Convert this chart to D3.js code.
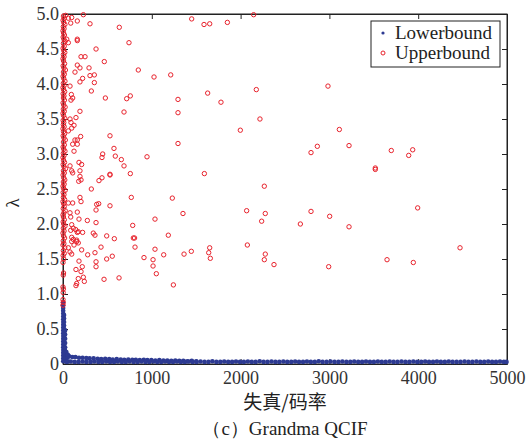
<!DOCTYPE html>
<html>
<head>
<meta charset="utf-8">
<script src="https://cdn.jsdelivr.net/npm/d3@7"></script>
<style>
  body { margin: 0; background: #fff; }
  svg text { font-family: "Liberation Serif", "DejaVu Serif", serif; fill: #222; }
</style>
</head>
<body>
<div id="chart"></div>
<script>
// axis ticks
var xTicks = [0, 1000, 2000, 3000, 4000, 5000];
var yTicks = [0, 0.5, 1, 1.5, 2, 2.5, 3, 3.5, 4, 4.5, 5];
var seriesNames = ["Lowerbound", "Upperbound"];

// Lowerbound: spike near the origin, then the flat band
var lowerSpike = [
  [3,0.04],[3,0.08],[3,0.12],[3,0.16],[3,0.20],[3,0.24],[3,0.28],[3,0.32],[3,0.36],[3,0.40],[3,0.44],
  [3,0.48],[3,0.52],[3,0.56],[3,0.60],[3,0.64],[3,0.68],[3,0.72],[2,0.76],[2,0.80],[1,0.84],[1,0.88],
  [12,0.05],[12,0.10],[12,0.15],[12,0.20],[12,0.25],[12,0.30],[12,0.35],[12,0.40],[12,0.45],[12,0.50],
  [12,0.55],[12,0.60],[12,0.65],[12,0.70],
  [24,0.04],[24,0.09],[24,0.14],[24,0.19],[24,0.24],[24,0.30],[24,0.36],[24,0.42],[24,0.48],
  [38,0.04],[38,0.09],[38,0.14],[38,0.17],[55,0.04],[55,0.10],[55,0.13]
];
var lowerTop = [
  [70,0.11],[105,0.10],[140,0.10],[180,0.09],[220,0.09],[262,0.085],[300,0.08],[345,0.08],[390,0.075],
  [430,0.07],[475,0.075],[520,0.07],[560,0.065],[605,0.07],[650,0.065],[690,0.06],[735,0.065],[780,0.06],
  [820,0.06],[865,0.055],[910,0.06],[950,0.055],[995,0.055],[1040,0.05],[1085,0.055],[1130,0.05],
  [1175,0.05],[1220,0.045],[1265,0.05],[1310,0.045],[1355,0.045],[1400,0.04],[1450,0.045],[1500,0.04]
];
var lowerBand = [
  [45,0.03],[88,0.035],[132,0.03],[176,0.03],[221,0.035],[264,0.03],[310,0.03],[352,0.035],[398,0.03],
  [441,0.03],[486,0.035],[530,0.03],[575,0.03],[618,0.035],[663,0.03],[707,0.03],[751,0.035],[796,0.03],
  [840,0.03],[884,0.035],[929,0.03],[972,0.03],[1017,0.035],[1061,0.03],[1106,0.03],[1150,0.035],
  [1194,0.03],[1239,0.03],[1283,0.035],[1327,0.03],[1372,0.03],[1416,0.035],[1460,0.03],[1505,0.03],
  [1549,0.035],[1594,0.03],[1638,0.03],[1682,0.04],[1727,0.03],[1771,0.03],[1815,0.035],[1860,0.03],
  [1904,0.03],[1948,0.035],[1993,0.03],[2037,0.03],[2082,0.035],[2126,0.03],[2170,0.03],[2215,0.04],
  [2259,0.03],[2303,0.03],[2348,0.035],[2392,0.03],[2436,0.03],[2481,0.035],[2525,0.03],[2570,0.03],
  [2614,0.035],[2658,0.03],[2703,0.03],[2747,0.035],[2791,0.03],[2836,0.03],[2880,0.04],[2924,0.03],
  [2969,0.03],[3013,0.035],[3058,0.03],[3102,0.03],[3146,0.035],[3191,0.03],[3235,0.03],[3279,0.035],
  [3324,0.03],[3368,0.03],[3412,0.035],[3457,0.03],[3501,0.03],[3546,0.035],[3590,0.03],[3634,0.03],
  [3679,0.035],[3723,0.03],[3767,0.03],[3812,0.035],[3856,0.03],[3900,0.03],[3945,0.035],[3989,0.03],
  [4034,0.03],[4078,0.035],[4122,0.03],[4167,0.03],[4211,0.035],[4255,0.03],[4300,0.03],[4344,0.035],
  [4388,0.03],[4433,0.03],[4477,0.03],[4522,0.035],[4566,0.03],[4610,0.03],[4655,0.035],[4699,0.03],
  [4743,0.03],[4788,0.035],[4832,0.03],[4876,0.03],[4921,0.035],[4965,0.03],[4995,0.03]
];

// Upperbound: dense column at very small distortion/rate, then scattered points
var upperColumn = [
  [0,0.84],[3,0.88],[0,0.92],[2,1.02],[4,1.07],[0,1.10],[3,1.27],[6,1.30],[0,1.45],[8,1.50],[2,1.55],
  [14,1.58],[4,1.62],[20,1.66],[0,1.70],[10,1.72],[3,1.76],[18,1.80],[6,1.83],[0,1.87],[12,1.90],
  [4,1.94],[22,1.97],[8,2.00],[2,2.03],[15,2.06],[5,2.10],[0,2.13],[10,2.16],[25,2.19],[3,2.22],
  [14,2.25],[7,2.29],[0,2.32],[18,2.35],[4,2.38],[11,2.42],[2,2.45],[24,2.48],[6,2.51],[0,2.54],
  [13,2.57],[4,2.60],[20,2.63],[8,2.66],[1,2.70],[15,2.73],[5,2.76],[28,2.79],[10,2.82],[2,2.85],
  [17,2.88],[6,2.91],[0,2.95],[12,2.98],[4,3.01],[22,3.04],[8,3.07],[1,3.10],[15,3.13],[5,3.17],
  [26,3.20],[10,3.23],[2,3.26],[18,3.29],[6,3.32],[0,3.36],[13,3.39],[4,3.42],[9,3.45],[2,3.48],
  [20,3.51],[6,3.55],[0,3.58],[14,3.61],[4,3.64],[24,3.67],[8,3.70],[1,3.73],[16,3.77],[5,3.80],
  [11,3.83],[2,3.86],[19,3.89],[6,3.92],[0,3.95],[13,3.98],[4,4.01],[22,4.04],[8,4.08],[1,4.11],
  [15,4.14],[5,4.17],[27,4.20],[10,4.23],[2,4.26],[18,4.29],[6,4.33],[0,4.36],[12,4.39],[4,4.42],
  [20,4.45],[8,4.48],[1,4.51],[14,4.54],[5,4.58],[24,4.61],[10,4.64],[2,4.67],[16,4.70],[6,4.73],
  [0,4.76],[12,4.79],[4,4.82],[21,4.85],[8,4.88],[1,4.91],[15,4.94],[5,4.97],[30,4.98]
];
var upperScatter = [
  [60,4.94],[98,4.95],[229,4.99],[161,4.90],[87,4.87],[304,4.86],[634,4.81],[42,4.64],[60,4.59],
  [161,4.64],[161,4.62],[743,4.59],[372,4.50],[203,4.39],[248,4.39],[465,4.32],[161,4.27],[191,4.23],
  [293,4.23],[135,4.17],[848,4.20],[304,4.12],[353,4.13],[221,4.08],[191,4.03],[353,4.02],[79,3.97],
  [94,3.85],[90,3.77],[109,3.80],[319,3.90],[477,3.80],[717,3.79],[758,3.83],[191,3.61],[687,3.60],
  [146,3.52],[79,3.50],[90,3.45],[124,3.41],[98,3.37],[60,3.33],[529,3.26],[199,3.25],[161,3.20],
  [135,3.20],[109,3.14],[161,3.14],[574,3.08],[124,3.04],[447,3.00],[439,2.95],[589,2.97],[657,2.92],
  [946,2.96],[687,2.83],[180,2.88],[210,2.85],[79,2.83],[98,2.76],[191,2.76],[109,2.73],[529,2.71],
  [529,2.70],[758,2.72],[191,2.68],[203,2.63],[177,2.61],[405,2.62],[439,2.66],[319,2.50],[191,2.38],
  [769,2.38],[60,2.30],[109,2.30],[203,2.32],[379,2.28],[402,2.29],[529,2.26],[372,2.20],[79,2.16],
  [161,2.17],[87,2.10],[180,2.07],[274,2.05],[372,2.02],[98,1.99],[116,1.94],[87,1.91],[143,1.92],
  [172,1.89],[221,1.88],[161,1.88],[341,1.87],[360,1.84],[492,1.83],[578,1.79],[785,1.98],[792,1.80],
  [806,1.80],[98,1.81],[116,1.78],[154,1.75],[98,1.75],[172,1.73],[124,1.70],[154,1.77],[60,1.66],
  [79,1.60],[98,1.57],[210,1.63],[278,1.56],[360,1.59],[428,1.67],[555,1.54],[492,1.50],[811,1.67],
  [180,1.47],[146,1.35],[217,1.39],[372,1.46],[372,1.39],[912,1.52],[203,1.32],[172,1.22],[229,1.24],
  [240,1.18],[146,1.12],[154,1.15],[462,1.21],[631,1.23],
  [1449,4.93],[1588,4.85],[1652,4.86],[1851,4.88],[2147,4.99],[1025,4.10],[1213,4.13],[2984,3.97],
  [1629,3.87],[1295,3.78],[2177,3.92],[1779,3.74],[1295,3.59],[2218,3.50],[1997,3.34],[3112,3.35],
  [1295,3.15],[3221,3.12],[2864,3.11],[2793,3.02],[3697,3.05],[3893,2.98],[3938,3.06],[3517,2.80],
  [3517,2.78],[1592,2.72],[2267,2.54],[1231,2.37],[1351,2.15],[1036,2.07],[2068,2.19],[2278,2.15],
  [2237,2.04],[2793,2.18],[3003,2.11],[2673,2.00],[3221,1.96],[3994,2.23],[1186,1.84],[1036,1.64],
  [1134,1.56],[1363,1.57],[1445,1.61],[1652,1.66],[1641,1.59],[1659,1.51],[2076,1.70],[2278,1.57],
  [2267,1.49],[2376,1.42],[2992,1.39],[3649,1.49],[3945,1.45],[4471,1.66],[1014,1.49],[1014,1.40],
  [1051,1.29],[1243,1.13]
];

var W = 527, H = 441;
var margin = {top: 14, right: 20, bottom: 77, left: 63};
var width = W - margin.left - margin.right,
    height = H - margin.top - margin.bottom;

var blue = "#2d3a92", red = "#e8232d";
var serif = "'Liberation Serif', 'DejaVu Serif', serif";

var svg = d3.select("#chart").append("svg")
    .attr("width", W)
    .attr("height", H);

var g = svg.append("g")
    .attr("transform", "translate(" + margin.left + "," + margin.top + ")");

var x = d3.scaleLinear().domain([0, 5000]).range([0, width]);
var y = d3.scaleLinear().domain([0, 5]).range([height, 0]);

var fmtX = function(d) { return String(d); };
var fmtY = function(d) { return d === 0 ? "0" : d3.format(".1f")(d); };

// plot box
g.append("rect")
    .attr("width", width)
    .attr("height", height)
    .attr("fill", "none")
    .attr("stroke", "#222")
    .attr("stroke-width", 1);

// axes, ticks pointing inward
g.append("g")
    .attr("transform", "translate(0," + height + ")")
    .call(d3.axisBottom(x).tickValues(xTicks).tickFormat(fmtX).tickSize(-5).tickSizeOuter(0).tickPadding(7));
g.append("g")
    .call(d3.axisLeft(y).tickValues(yTicks).tickFormat(fmtY).tickSize(-5).tickSizeOuter(0).tickPadding(4));
g.append("g")
    .call(d3.axisTop(x).tickValues(xTicks).tickSize(-5).tickSizeOuter(0).tickFormat(""));
g.append("g")
    .attr("transform", "translate(" + width + ",0)")
    .call(d3.axisRight(y).tickValues(yTicks).tickSize(-5).tickSizeOuter(0).tickFormat(""));

g.selectAll(".domain").attr("stroke", "#222");
g.selectAll(".tick line").attr("stroke", "#222");
g.selectAll(".tick text")
    .style("font-family", serif)
    .style("font-size", "18px")
    .style("fill", "#333");

// lowerbound dots
var lowerAll = lowerSpike.concat(lowerTop, lowerBand);
g.append("g").selectAll("circle")
    .data(lowerAll)
  .enter().append("circle")
    .attr("cx", function(d) { return x(d[0]); })
    .attr("cy", function(d) { return y(d[1]); })
    .attr("r", 2.3)
    .attr("fill", blue);

// upperbound open circles
var upperAll = upperColumn.concat(upperScatter);
g.append("g").selectAll("circle")
    .data(upperAll)
  .enter().append("circle")
    .attr("cx", function(d) { return x(d[0]); })
    .attr("cy", function(d) { return y(d[1]); })
    .attr("r", 2.2)
    .attr("fill", "none")
    .attr("stroke", red)
    .attr("stroke-width", 1);

// legend
var legend = svg.append("g").attr("transform", "translate(371,21)");
legend.append("rect")
    .attr("width", 129)
    .attr("height", 46)
    .attr("fill", "#fff")
    .attr("stroke", "#222")
    .attr("stroke-width", 1);
legend.append("circle").attr("cx", 12).attr("cy", 12).attr("r", 1.6).attr("fill", blue);
legend.append("circle").attr("cx", 12).attr("cy", 32).attr("r", 2)
    .attr("fill", "none").attr("stroke", red).attr("stroke-width", 1);
legend.selectAll("text.lg")
    .data(seriesNames)
  .enter().append("text")
    .attr("class", "lg")
    .attr("x", 24)
    .attr("y", function(d, i) { return 18 + i * 20; })
    .attr("font-size", "19px")
    .text(function(d) { return d; });

// labels
svg.append("text")
    .attr("transform", "translate(19," + (margin.top + height / 2 + 14) + ") rotate(-90)")
    .attr("text-anchor", "middle")
    .attr("font-size", "19px")
    .text("λ");

svg.append("text")
    .attr("x", margin.left + width / 2)
    .attr("y", 409)
    .attr("text-anchor", "middle")
    .attr("font-size", "19px")
    .style("font-family", "'Noto Sans CJK SC', sans-serif")
    .text("失真/码率");

svg.append("text")
    .attr("x", margin.left + width / 2)
    .attr("y", 435)
    .attr("text-anchor", "middle")
    .attr("font-size", "19px")
    .text("（c）Grandma QCIF");
</script>
</body>
</html>
